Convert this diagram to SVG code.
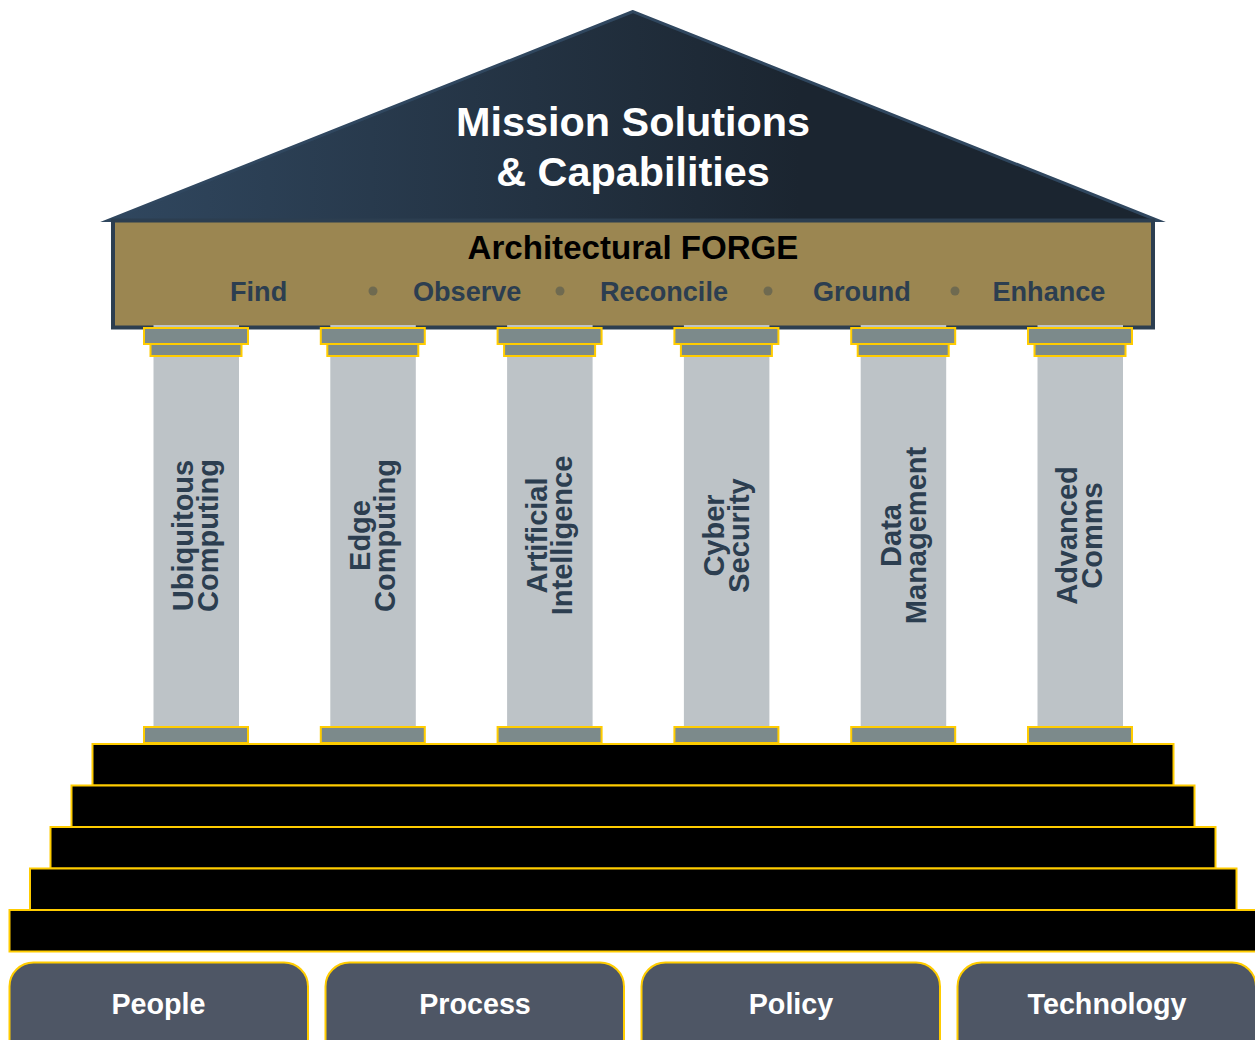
<svg xmlns="http://www.w3.org/2000/svg" width="1255" height="1040" viewBox="0 0 1255 1040">
<style>
text{font-family:"Liberation Sans",Arial,sans-serif;font-weight:700}
.cap{fill:#7c8a8b;stroke:#ffcc00;stroke-width:2}
.shaft{fill:#bdc3c7}
.step{fill:#000;stroke:#ffcc00;stroke-width:2}
.btn{fill:#4e5665;stroke:#ffcc00;stroke-width:2}
.btxt{fill:#fff;font-size:28.7px;text-anchor:middle}
.fl{fill:#2c3e50;font-size:27.1px}
.dot{fill:#6f6a50}
.pt{fill:#2c3e50;font-size:29px;text-anchor:middle}
</style>
<defs>
<linearGradient id="roofGrad" gradientUnits="userSpaceOnUse" x1="105" y1="0" x2="800" y2="0">
<stop offset="0" stop-color="#30475f"/><stop offset="1" stop-color="#1b2530"/>
</linearGradient>
<g id="col">
<rect class="shaft" x="10" y="-2" width="85.500" height="405"/>
<rect class="cap" x="0.500" y="1" width="104" height="16"/>
<rect class="cap" x="7" y="17" width="91" height="12"/>
<rect class="cap" x="0.500" y="400" width="104" height="16"/>
</g>
</defs>
<g id="roof">
<polygon points="633,11.500 108,220.500 1158,220.500" fill="url(#roofGrad)" stroke="#30475f" stroke-width="3" stroke-linejoin="miter" stroke-miterlimit="10"/>
<text x="633" y="136" fill="#fff" font-size="41.4" text-anchor="middle">Mission Solutions</text>
<text x="633" y="186" fill="#fff" font-size="41.4" text-anchor="middle">&amp; Capabilities</text>
</g>
<g id="forge">
<rect x="113" y="220.500" width="1040" height="107" fill="#9b8651" stroke="#2c3e50" stroke-width="4"/>
<text x="633" y="259" fill="#000" font-size="33.1" text-anchor="middle">Architectural FORGE</text>
<text class="fl" x="230" y="301">Find</text>
<circle class="dot" cx="373" cy="291" r="4.5"/>
<text class="fl" x="413" y="301">Observe</text>
<circle class="dot" cx="560" cy="291" r="4.5"/>
<text class="fl" x="600" y="301">Reconcile</text>
<circle class="dot" cx="768" cy="291" r="4.5"/>
<text class="fl" x="813" y="301">Ground</text>
<circle class="dot" cx="955" cy="291" r="4.5"/>
<text class="fl" x="992.500" y="301">Enhance</text>
</g>
<g id="pillar-1"><use href="#col" x="143.500" y="327"/>
<text class="pt" transform="translate(193,535.500) rotate(-90)">Ubiquitous</text><text class="pt" transform="translate(218,535.500) rotate(-90)">Computing</text></g>
<g id="pillar-2"><use href="#col" x="320.300" y="327"/>
<text class="pt" transform="translate(370,535.500) rotate(-90)">Edge</text><text class="pt" transform="translate(395,535.500) rotate(-90)">Computing</text></g>
<g id="pillar-3"><use href="#col" x="497.100" y="327"/>
<text class="pt" transform="translate(547,535.500) rotate(-90)">Artificial</text><text class="pt" transform="translate(572,535.500) rotate(-90)">Intelligence</text></g>
<g id="pillar-4"><use href="#col" x="673.900" y="327"/>
<text class="pt" transform="translate(723.500,535.500) rotate(-90)">Cyber</text><text class="pt" transform="translate(748.500,535.500) rotate(-90)">Security</text></g>
<g id="pillar-5"><use href="#col" x="850.700" y="327"/>
<text class="pt" transform="translate(900.500,535.500) rotate(-90)">Data</text><text class="pt" transform="translate(925.500,535.500) rotate(-90)">Management</text></g>
<g id="pillar-6"><use href="#col" x="1027.500" y="327"/>
<text class="pt" transform="translate(1077,535.500) rotate(-90)">Advanced</text><text class="pt" transform="translate(1102,535.500) rotate(-90)">Comms</text></g>
<g id="steps">
<rect class="step" x="92.500" y="744" width="1081" height="41.500"/>
<rect class="step" x="71.500" y="785.500" width="1123" height="41.500"/>
<rect class="step" x="50.500" y="827" width="1165" height="41.500"/>
<rect class="step" x="30" y="868.500" width="1206.500" height="41.500"/>
<rect class="step" x="9.500" y="910" width="1290" height="41.500"/>
</g>
<g id="people"><rect class="btn" x="9.500" y="962.500" width="298.500" height="110" rx="24"/><text class="btxt" x="158.500" y="1014">People</text></g>
<g id="process"><rect class="btn" x="325.500" y="962.500" width="298.500" height="110" rx="24"/><text class="btxt" x="475" y="1014">Process</text></g>
<g id="policy"><rect class="btn" x="641.500" y="962.500" width="298.500" height="110" rx="24"/><text class="btxt" x="791" y="1014">Policy</text></g>
<g id="technology"><rect class="btn" x="957.500" y="962.500" width="298.500" height="110" rx="24"/><text class="btxt" x="1107" y="1014">Technology</text></g>
</svg>
